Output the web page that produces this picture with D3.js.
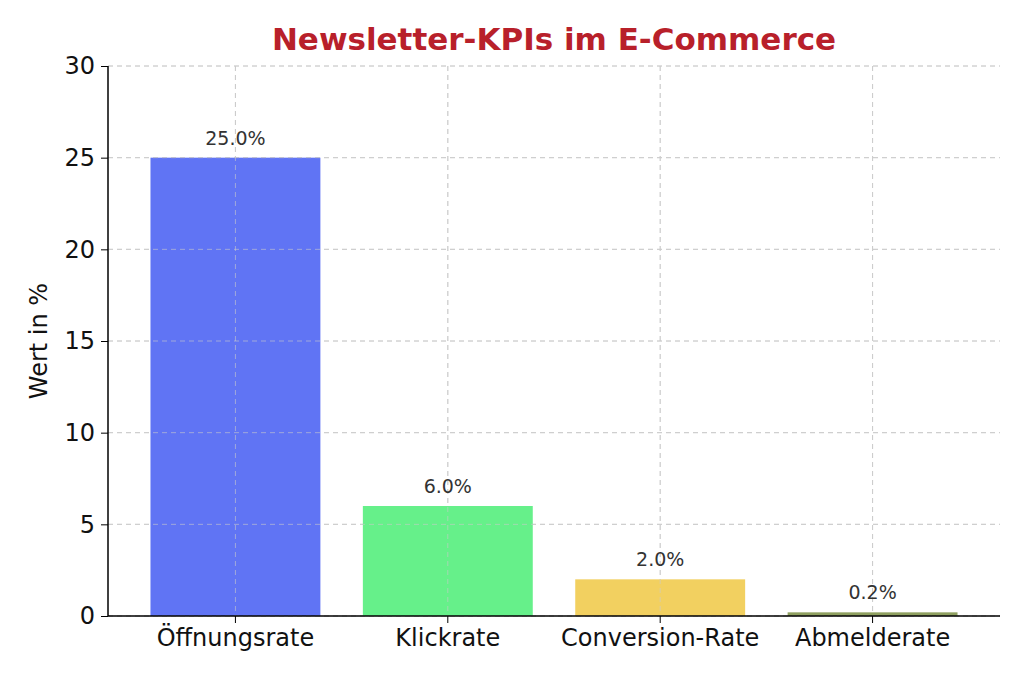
<!DOCTYPE html>
<html><head><meta charset="utf-8">
<script src="https://cdn.jsdelivr.net/npm/d3@7"></script>
<style>body{margin:0;background:#fff}svg{font-family:"DejaVu Sans",sans-serif}</style>
</head><body><svg id="c" width="1024" height="683"></svg>
<script>
const categories=["Öffnungsrate","Klickrate","Conversion-Rate","Abmelderate"];
const values=[25.0,6.0,2.0,0.2];
const colors=["#6074f4","#66f08a","#f2d060","#8fa060"];
const yTicks=[0,5,10,15,20,25,30];
const svg=d3.select("#c");
const m={l:108,r:1000,t:66,b:616};
const x=d3.scaleBand().domain(categories).range([m.l,m.r]).padding(0.2);
const y=d3.scaleLinear().domain([0,30]).range([m.b,m.t]);
const g=svg.append("g");
g.selectAll(".hg").data(yTicks).join("line").attr("x1",m.l).attr("x2",m.r).attr("y1",d=>y(d)).attr("y2",d=>y(d)).attr("stroke","#ccc").attr("stroke-dasharray","5,4");
g.selectAll(".vg").data(categories).join("line").attr("x1",d=>x(d)+x.bandwidth()/2).attr("x2",d=>x(d)+x.bandwidth()/2).attr("y1",m.t).attr("y2",m.b).attr("stroke","#ccc").attr("stroke-dasharray","5,4");
g.selectAll("rect").data(values).join("rect").attr("x",(d,i)=>x(categories[i])).attr("width",x.bandwidth()).attr("y",d=>y(d)).attr("height",d=>m.b-y(d)).attr("fill",(d,i)=>colors[i]);
// redraw vertical grid above bars (matplotlib grid appears over bars)
g.selectAll(".vg2").data(categories).join("line").attr("x1",d=>x(d)+x.bandwidth()/2).attr("x2",d=>x(d)+x.bandwidth()/2).attr("y1",m.t).attr("y2",m.b).attr("stroke","#ccc").attr("stroke-opacity",0.6).attr("stroke-dasharray","5,4");
g.selectAll(".hg2").data(yTicks).join("line").attr("x1",m.l).attr("x2",m.r).attr("y1",d=>y(d)).attr("y2",d=>y(d)).attr("stroke","#ccc").attr("stroke-opacity",0.6).attr("stroke-dasharray","5,4");
g.selectAll(".lbl").data(values).join("text").attr("x",(d,i)=>x(categories[i])+x.bandwidth()/2).attr("y",d=>y(d)-13).attr("text-anchor","middle").attr("font-size",19).attr("fill","#333").text(d=>d.toFixed(1)+"%");
const ya=svg.append("g").attr("transform",`translate(${m.l},0)`).call(d3.axisLeft(y).tickValues(yTicks).tickSize(7).tickPadding(6));
ya.selectAll("text").attr("font-size",24).attr("fill","#111").attr("font-family","DejaVu Sans");
ya.select(".domain").attr("d",`M0,${m.b}V${m.t}`).attr("stroke-width",1.5);
const xa=svg.append("g").attr("transform",`translate(0,${m.b})`).call(d3.axisBottom(x).tickSize(7).tickPadding(6));
xa.selectAll("text").attr("font-size",24).attr("fill","#111").attr("font-family","DejaVu Sans");
xa.select(".domain").attr("d",`M${m.l},0H${m.r}`).attr("stroke-width",1.5);
svg.append("text").attr("transform","translate(47,341) rotate(-90)").attr("text-anchor","middle").attr("font-size",24).attr("fill","#111").text("Wert in %");
svg.append("text").attr("x",554).attr("y",50).attr("text-anchor","middle").attr("font-size",31).attr("font-weight","bold").attr("fill","#b8202a").text("Newsletter-KPIs im E-Commerce");
</script></body></html>
